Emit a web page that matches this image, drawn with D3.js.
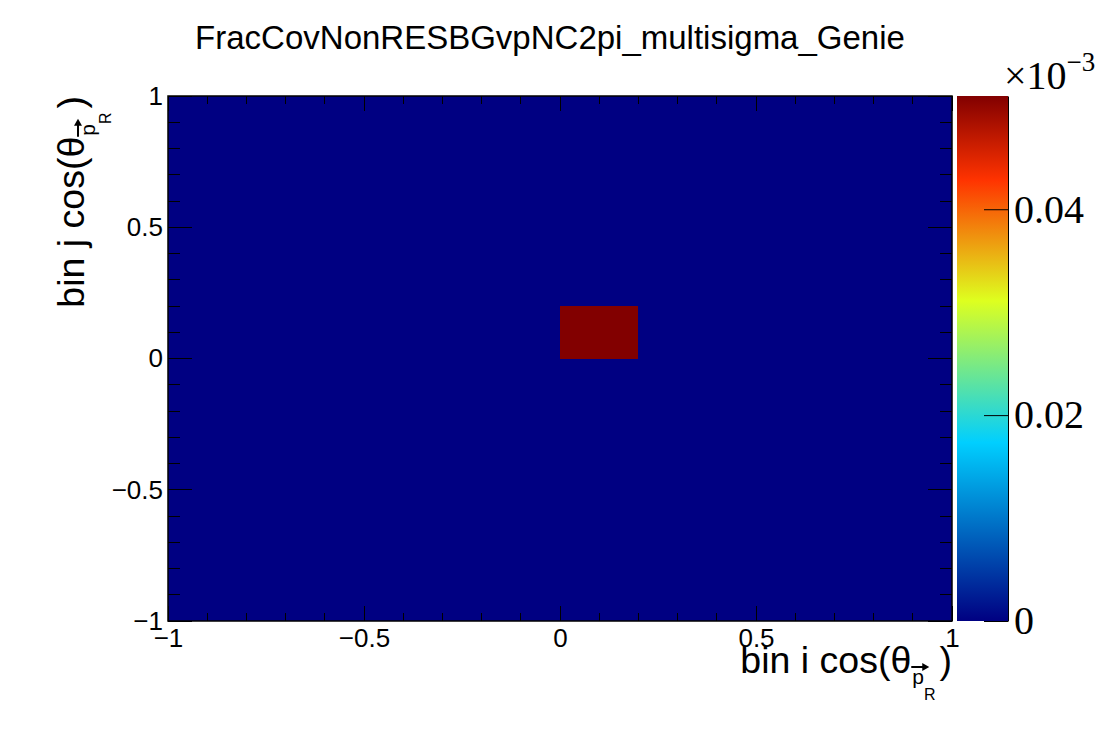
<!DOCTYPE html>
<html>
<head>
<meta charset="utf-8">
<script src="https://cdn.jsdelivr.net/npm/d3@7"></script>
<style>
  body { margin: 0; background: #fff; }
  svg text { font-family: "Liberation Sans", Arial, sans-serif; fill: #000; }
  .serif text, text.serif { font-family: "Liberation Serif", "Times New Roman", serif; }
</style>
</head>
<body>
<svg id="chart" width="1120" height="740"></svg>
<script>
// bin edges in cos(theta), 10 x 10 bins
const xEdges = [-1, -0.8, -0.6, -0.4, -0.2, 0, 0.2, 0.4, 0.6, 0.8, 1];
const yEdges = [-1, -0.8, -0.6, -0.4, -0.2, 0, 0.2, 0.4, 0.6, 0.8, 1];
// bin contents (x 1e-3), row j = y bin from bottom, column i = x bin
const zValues = [
  [0, 0, 0, 0, 0, 0, 0, 0, 0, 0],
  [0, 0, 0, 0, 0, 0, 0, 0, 0, 0],
  [0, 0, 0, 0, 0, 0, 0, 0, 0, 0],
  [0, 0, 0, 0, 0, 0, 0, 0, 0, 0],
  [0, 0, 0, 0, 0, 0, 0, 0, 0, 0],
  [0, 0, 0, 0, 0, 0.0510, 0, 0, 0, 0],
  [0, 0, 0, 0, 0, 0, 0, 0, 0, 0],
  [0, 0, 0, 0, 0, 0, 0, 0, 0, 0],
  [0, 0, 0, 0, 0, 0, 0, 0, 0, 0],
  [0, 0, 0, 0, 0, 0, 0, 0, 0, 0]
];
const axisTicks = [-1, -0.5, 0, 0.5, 1];
const zTicks = [0, 0.02, 0.04];
const paletteStops = [0, 0.34, 0.61, 0.84, 1];
const paletteColors = ['rgb(0,0,130)', 'rgb(0,207,255)', 'rgb(222,255,31)', 'rgb(255,51,0)', 'rgb(130,0,0)'];
const title = 'FracCovNonRESBGvpNC2pi_multisigma_Genie';

const svg = d3.select('#chart');

const plot = { left: 168, right: 952, top: 96, bottom: 621 };
const bar = { left: 957, right: 1008 };

const x = d3.scaleLinear().domain([-1, 1]).range([plot.left, plot.right]);
const y = d3.scaleLinear().domain([-1, 1]).range([plot.bottom, plot.top]);
const zMax = d3.max(zValues.flat());
const z = d3.scaleLinear().domain([0, zMax]).range([plot.bottom, plot.top]);
const color = d3.scaleLinear()
    .domain(paletteStops.map(s => s * zMax))
    .range(paletteColors)
    .interpolate(d3.interpolateRgb);

// cells
const cells = [];
zValues.forEach((row, j) => {
    row.forEach((v, i) => {
        cells.push({ x0: xEdges[i], x1: xEdges[i + 1], y0: yEdges[j], y1: yEdges[j + 1], v });
    });
});

svg.append('g')
    .selectAll('rect')
    .data(cells)
    .join('rect')
    .attr('x', d => x(d.x0))
    .attr('y', d => y(d.y1))
    .attr('width', d => x(d.x1) - x(d.x0))
    .attr('height', d => y(d.y0) - y(d.y1))
    .attr('fill', d => color(d.v))
    .attr('shape-rendering', 'crispEdges');

// minor + major ticks on all four sides (pointing inward)
const minor = x.ticks(20);
const tickG = svg.append('g').attr('stroke', '#000').attr('stroke-width', 1).attr('shape-rendering', 'crispEdges');
const isMajor = v => axisTicks.some(t => Math.abs(t - v) < 1e-9);

tickG.selectAll('.xb').data(minor).join('line')
    .attr('x1', d => x(d)).attr('x2', d => x(d))
    .attr('y1', plot.bottom).attr('y2', d => plot.bottom - (isMajor(d) ? 15 : 8));
tickG.selectAll('.xt').data(minor).join('line')
    .attr('x1', d => x(d)).attr('x2', d => x(d))
    .attr('y1', plot.top).attr('y2', d => plot.top + (isMajor(d) ? 15 : 8));
tickG.selectAll('.yl').data(y.ticks(20)).join('line')
    .attr('y1', d => y(d)).attr('y2', d => y(d))
    .attr('x1', plot.left).attr('x2', d => plot.left + (isMajor(d) ? 24 : 12));
tickG.selectAll('.yr').data(y.ticks(20)).join('line')
    .attr('y1', d => y(d)).attr('y2', d => y(d))
    .attr('x1', plot.right).attr('x2', d => plot.right - (isMajor(d) ? 24 : 12));

// frame
svg.append('rect')
    .attr('x', plot.left).attr('y', plot.top)
    .attr('width', plot.right - plot.left).attr('height', plot.bottom - plot.top)
    .attr('fill', 'none').attr('stroke', '#000').attr('stroke-width', 1.5);

const fmt = d3.format('~g');

// axis labels
const xAxis = svg.append('g')
    .attr('transform', `translate(0,${plot.bottom})`)
    .call(d3.axisBottom(x).tickValues(axisTicks).tickSize(0).tickSizeOuter(0).tickPadding(8).tickFormat(fmt));
const yAxis = svg.append('g')
    .attr('transform', `translate(${plot.left},0)`)
    .call(d3.axisLeft(y).tickValues(axisTicks).tickSize(0).tickSizeOuter(0).tickPadding(5).tickFormat(fmt));
[xAxis, yAxis].forEach(a => {
    a.select('.domain').remove();
    a.attr('font-family', null).attr('font-size', null);
    a.selectAll('text').style('font-size', '26px').attr('fill', '#000');
});

// colour bar
const grad = svg.append('defs').append('linearGradient')
    .attr('id', 'pal').attr('x1', 0).attr('x2', 0).attr('y1', 1).attr('y2', 0);
grad.selectAll('stop').data(paletteStops).join('stop')
    .attr('offset', d => d)
    .attr('stop-color', (d, i) => paletteColors[i]);

svg.append('rect')
    .attr('x', bar.left).attr('y', z(zMax))
    .attr('width', bar.right - bar.left).attr('height', z(0) - z(zMax))
    .attr('fill', 'url(#pal)');

const zAxis = svg.append('g')
    .attr('class', 'serif')
    .attr('transform', `translate(${bar.right},0)`)
    .call(d3.axisRight(z).tickValues(zTicks).tickSize(-24).tickSizeOuter(0).tickPadding(6).tickFormat(fmt));
zAxis.attr('font-family', null).attr('font-size', null);
zAxis.selectAll('line').attr('stroke', '#000');
zAxis.select('.domain').attr('stroke', '#000');
zAxis.selectAll('text').style('font-size', '40px').attr('fill', '#000');

// x10^-3 multiplier
const mult = svg.append('text').attr('class', 'serif')
    .attr('x', 1004).attr('y', 89)
    .style('font-size', '40px');
mult.append('tspan').text('×10');
mult.append('tspan').attr('dy', -18).style('font-size', '27px').text('−3');

// title
svg.append('text')
    .attr('x', 550).attr('y', 49)
    .attr('text-anchor', 'middle')
    .style('font-size', '33px')
    .text(title);

// axis title "bin i cos(theta_{p_R})"
function varTitle(g, main) {
    let cx = 0;
    const part = (str, size, dy) => {
        const t = g.append('text').attr('x', cx).attr('y', dy).style('font-size', size + 'px').text(str);
        return t.node().getComputedTextLength();
    };
    cx += part(main, 37.5, 0) + 1;
    const pStart = cx;
    const pw = part('p', 21, 11);
    // vector arrow over p
    g.append('path')
        .attr('d', `M${pStart - 1},-6 H${pStart + 12}`)
        .attr('stroke', '#000').attr('stroke-width', 2).attr('fill', 'none');
    g.append('path')
        .attr('d', `M${pStart + 17},-6 L${pStart + 10},-10 L${pStart + 10},-2 Z`)
        .attr('fill', '#000');
    cx = pStart + pw;
    cx += part('R', 16, 27) + 4;
    cx += part(')', 37.5, 0);
    return cx;
}

const xt = svg.append('g');
const xw = varTitle(xt, 'bin i cos(θ');
xt.attr('transform', `translate(${plot.right - xw},673)`);

const yt = svg.append('g');
const yw = varTitle(yt, 'bin j cos(θ');
yt.attr('transform', `translate(84,${plot.top + yw}) rotate(-90)`);
</script>
</body>
</html>
